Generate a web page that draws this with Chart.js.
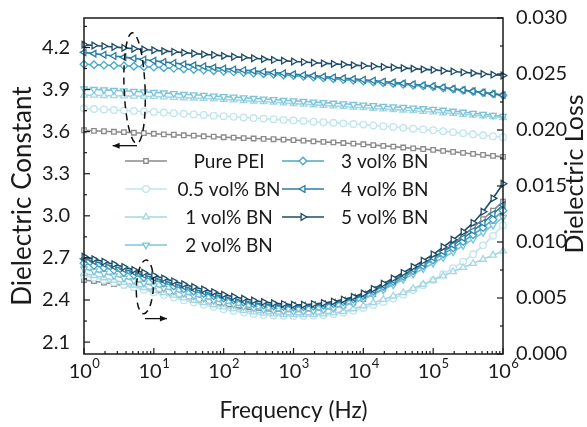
<!DOCTYPE html>
<html>
<head>
<meta charset="utf-8">
<script src="https://cdn.jsdelivr.net/npm/chart.js@4"></script>
<style>
  html, body { margin: 0; padding: 0; background: #fff; }
</style>
</head>
<body>
<canvas id="chart" width="587" height="427"></canvas>
<script>
// frequency sweep (Hz), 7 points per decade
const freq = [1, 1.389, 1.931, 2.683, 3.728, 5.179, 7.197,
  10, 13.89, 19.31, 26.83, 37.28, 51.79, 71.97,
  100, 138.9, 193.1, 268.3, 372.8, 517.9, 719.7,
  1000, 1389, 1931, 2683, 3728, 5179, 7197,
  10000, 13895, 19307, 26827, 37276, 51795, 71969,
  100000, 138950, 193070, 268270, 372760, 517950, 719690, 1000000];

const sampleNames = ['Pure PEI', '0.5 vol% BN', '1 vol% BN', '2 vol% BN', '3 vol% BN', '4 vol% BN', '5 vol% BN'];

// dielectric constant (left axis)
const epsPure = [3.610, 3.606, 3.603, 3.599, 3.596, 3.592, 3.589, 3.585, 3.581, 3.578, 3.574, 3.571, 3.567, 3.564,
  3.560, 3.557, 3.554, 3.551, 3.549, 3.546, 3.543, 3.540, 3.536, 3.531, 3.527, 3.523, 3.519, 3.514,
  3.510, 3.504, 3.499, 3.493, 3.487, 3.481, 3.476, 3.470, 3.463, 3.456, 3.449, 3.441, 3.434, 3.427, 3.420];
const eps05 = [3.765, 3.761, 3.758, 3.754, 3.751, 3.747, 3.744, 3.740, 3.736, 3.731, 3.727, 3.723, 3.719, 3.714,
  3.710, 3.706, 3.701, 3.697, 3.693, 3.689, 3.684, 3.680, 3.676, 3.671, 3.667, 3.663, 3.659, 3.654,
  3.650, 3.644, 3.639, 3.633, 3.627, 3.621, 3.616, 3.610, 3.603, 3.596, 3.589, 3.581, 3.574, 3.567, 3.560];
const eps1 = [3.860, 3.859, 3.857, 3.856, 3.854, 3.853, 3.851, 3.850, 3.847, 3.844, 3.841, 3.839, 3.836, 3.833,
  3.830, 3.826, 3.821, 3.817, 3.813, 3.809, 3.804, 3.800, 3.796, 3.791, 3.787, 3.783, 3.779, 3.774,
  3.770, 3.766, 3.761, 3.757, 3.753, 3.749, 3.744, 3.740, 3.734, 3.729, 3.723, 3.717, 3.711, 3.706, 3.700];
const eps2 = [3.905, 3.901, 3.898, 3.894, 3.891, 3.887, 3.884, 3.880, 3.876, 3.871, 3.867, 3.863, 3.859, 3.854,
  3.850, 3.846, 3.841, 3.837, 3.833, 3.829, 3.824, 3.820, 3.816, 3.811, 3.807, 3.803, 3.799, 3.794,
  3.790, 3.786, 3.781, 3.777, 3.773, 3.769, 3.764, 3.760, 3.753, 3.746, 3.739, 3.731, 3.724, 3.717, 3.710];
const eps3 = [4.080, 4.077, 4.074, 4.071, 4.069, 4.066, 4.063, 4.060, 4.056, 4.051, 4.047, 4.043, 4.039, 4.034,
  4.030, 4.026, 4.021, 4.017, 4.013, 4.009, 4.004, 4.000, 3.994, 3.989, 3.983, 3.977, 3.971, 3.966,
  3.960, 3.954, 3.949, 3.943, 3.937, 3.931, 3.926, 3.920, 3.911, 3.903, 3.894, 3.886, 3.877, 3.869, 3.860];
const eps4 = [4.165, 4.156, 4.148, 4.139, 4.131, 4.122, 4.114, 4.105, 4.097, 4.089, 4.081, 4.074, 4.066, 4.058,
  4.050, 4.044, 4.039, 4.033, 4.027, 4.021, 4.016, 4.010, 4.004, 3.999, 3.993, 3.987, 3.981, 3.976,
  3.970, 3.964, 3.957, 3.951, 3.944, 3.938, 3.931, 3.925, 3.916, 3.906, 3.897, 3.888, 3.879, 3.869, 3.860];
const eps5 = [4.220, 4.214, 4.209, 4.203, 4.197, 4.191, 4.186, 4.180, 4.174, 4.169, 4.163, 4.157, 4.151, 4.146,
  4.140, 4.134, 4.129, 4.123, 4.117, 4.111, 4.106, 4.100, 4.096, 4.091, 4.087, 4.083, 4.079, 4.074,
  4.070, 4.066, 4.061, 4.057, 4.053, 4.049, 4.044, 4.040, 4.034, 4.029, 4.023, 4.017, 4.011, 4.006, 4.000];

// dielectric loss (right axis), in units of 1e-3
const lossPure = [6.60, 6.50, 6.38, 6.25, 6.12, 5.95, 5.78, 5.60, 5.40, 5.19, 4.97, 4.76, 4.58, 4.43,
  4.30, 4.17, 4.05, 3.95, 3.88, 3.83, 3.80, 3.80, 3.83, 3.89, 3.98, 4.12, 4.33, 4.60,
  4.90, 5.35, 5.82, 6.30, 6.82, 7.36, 7.92, 8.50, 9.15, 9.82, 10.55, 11.30, 12.05, 12.80, 13.60];
const loss05 = [7.00, 6.80, 6.60, 6.39, 6.18, 5.95, 5.73, 5.50, 5.27, 5.04, 4.81, 4.59, 4.39, 4.19,
  4.00, 3.84, 3.70, 3.58, 3.49, 3.44, 3.41, 3.40, 3.40, 3.43, 3.48, 3.56, 3.69, 3.87,
  4.10, 4.37, 4.65, 4.95, 5.30, 5.71, 6.14, 6.60, 7.12, 7.67, 8.25, 8.90, 9.70, 10.55, 11.50];
const loss1 = [7.20, 7.00, 6.80, 6.59, 6.38, 6.15, 5.93, 5.70, 5.47, 5.24, 5.01, 4.79, 4.59, 4.39,
  4.20, 4.04, 3.89, 3.76, 3.64, 3.57, 3.52, 3.50, 3.50, 3.53, 3.58, 3.66, 3.80, 4.03,
  4.30, 4.58, 4.87, 5.17, 5.47, 5.84, 6.22, 6.60, 6.97, 7.34, 7.72, 8.08, 8.45, 8.82, 9.20];
const loss2 = [7.60, 7.40, 7.20, 6.99, 6.78, 6.55, 6.33, 6.10, 5.87, 5.64, 5.41, 5.19, 4.99, 4.79,
  4.60, 4.42, 4.25, 4.09, 3.97, 3.89, 3.83, 3.80, 3.81, 3.86, 3.95, 4.09, 4.29, 4.56,
  4.90, 5.30, 5.73, 6.18, 6.65, 7.13, 7.61, 8.10, 8.60, 9.12, 9.68, 10.25, 10.85, 11.50, 12.20];
const loss3 = [8.10, 7.90, 7.70, 7.49, 7.28, 7.05, 6.83, 6.60, 6.34, 6.08, 5.82, 5.60, 5.40, 5.20,
  5.00, 4.82, 4.65, 4.49, 4.37, 4.29, 4.23, 4.20, 4.21, 4.26, 4.35, 4.48, 4.66, 4.90,
  5.20, 5.60, 6.03, 6.48, 6.95, 7.43, 7.91, 8.40, 8.93, 9.47, 10.05, 10.65, 11.30, 12.00, 12.80];
const loss4 = [8.50, 8.27, 8.04, 7.81, 7.57, 7.31, 7.06, 6.80, 6.54, 6.29, 6.03, 5.79, 5.56, 5.33,
  5.10, 4.91, 4.74, 4.58, 4.47, 4.39, 4.33, 4.30, 4.31, 4.36, 4.45, 4.58, 4.76, 5.00,
  5.30, 5.70, 6.13, 6.58, 7.06, 7.57, 8.08, 8.60, 9.15, 9.72, 10.35, 11.00, 11.70, 12.50, 13.30];
const loss5 = [8.70, 8.47, 8.24, 8.01, 7.77, 7.51, 7.26, 7.00, 6.74, 6.49, 6.23, 5.99, 5.76, 5.53,
  5.30, 5.11, 4.94, 4.78, 4.65, 4.54, 4.46, 4.40, 4.40, 4.46, 4.55, 4.68, 4.86, 5.10,
  5.40, 5.82, 6.28, 6.75, 7.25, 7.78, 8.33, 8.90, 9.55, 10.20, 10.90, 11.70, 12.70, 13.90, 15.20];

const leftTicks = [2.1, 2.4, 2.7, 3.0, 3.3, 3.6, 3.9, 4.2];
const rightTicks = [0, 5, 10, 15, 20, 25, 30];

const epsSeries = [epsPure, eps05, eps1, eps2, eps3, eps4, eps5];
const lossSeries = [lossPure, loss05, loss1, loss2, loss3, loss4, loss5];
const colors = ['#8a8a8a', '#c0e5ee', '#a3d7e5', '#7cc4db', '#4aa7c9', '#2a7fa4', '#1c4d6a'];
const markers = [
  {style: 'rect', rot: 0, r: 3.2},
  {style: 'circle', rot: 0, r: 3.3},
  {style: 'triangle', rot: 0, r: 3.8},
  {style: 'triangle', rot: 180, r: 3.8},
  {style: 'rectRot', rot: 0, r: 3.8},
  {style: 'triangle', rot: 270, r: 3.8},
  {style: 'triangle', rot: 90, r: 3.8}
];

const FONT = 'Lato, "Open Sans", sans-serif';
Chart.defaults.font.family = FONT;
Chart.defaults.color = '#1a1a1a';

function makeSet(i, values, axis) {
  return {
    label: sampleNames[i],
    data: freq.map((f, k) => ({x: f, y: values[k]})),
    yAxisID: axis,
    borderColor: colors[i],
    backgroundColor: '#ffffff',
    borderWidth: 1.6,
    pointStyle: markers[i].style,
    pointRotation: markers[i].rot,
    pointRadius: markers[i].r,
    pointBorderWidth: 1.3,
    pointBackgroundColor: '#ffffff',
    pointBorderColor: colors[i],
    tension: 0,
    clip: false,
    order: 6 - i
  };
}

const datasets = [];
for (let i = 0; i < 7; i++) datasets.push(makeSet(i, epsSeries[i], 'y'));
for (let i = 0; i < 7; i++) datasets.push(makeSet(i, lossSeries[i], 'y1'));

function line(ctx, x0, y0, x1, y1) {
  ctx.beginPath();
  ctx.moveTo(x0, y0);
  ctx.lineTo(x1, y1);
  ctx.stroke();
}

function arrow(ctx, x0, x1, y) {
  line(ctx, x0, y, x1, y);
  const dir = x1 > x0 ? 1 : -1;
  ctx.beginPath();
  ctx.moveTo(x1, y);
  ctx.lineTo(x1 - dir * 7, y - 3);
  ctx.lineTo(x1 - dir * 7, y + 3);
  ctx.closePath();
  ctx.fill();
}

// box, inward ticks, x labels, titles, legend, annotations
const decorations = {
  id: 'decorations',
  afterDraw(chart) {
    const {ctx, chartArea: a, scales} = chart;
    const xs = scales.x, yl = scales.y, yr = scales.y1;
    ctx.save();
    ctx.strokeStyle = '#1a1a1a';
    ctx.fillStyle = '#1a1a1a';
    ctx.lineWidth = 1.5;
    ctx.strokeRect(a.left, a.top, a.right - a.left, a.bottom - a.top);

    ctx.lineWidth = 1.2;
    for (let d = 0; d < 6; d++) {
      for (let m = 1; m <= 9; m++) {
        const px = xs.getPixelForValue(m * Math.pow(10, d));
        line(ctx, px, a.bottom, px, a.bottom - (m === 1 ? 6 : 3));
      }
    }
    line(ctx, a.right, a.bottom, a.right, a.bottom - 6);
    leftTicks.forEach(v => {
      const py = yl.getPixelForValue(v);
      line(ctx, a.left, py, a.left + 6, py);
      const pm = yl.getPixelForValue(v + 0.15);
      if (pm > a.top) line(ctx, a.left, pm, a.left + 3, pm);
    });
    rightTicks.forEach(v => {
      const py = yr.getPixelForValue(v);
      line(ctx, a.right, py, a.right - 6, py);
      if (v < 30) {
        const pm = yr.getPixelForValue(v + 2.5);
        line(ctx, a.right, pm, a.right - 3, pm);
      }
    });

    // x tick labels 10^n
    ctx.textBaseline = 'alphabetic';
    ctx.textAlign = 'left';
    for (let d = 0; d <= 6; d++) {
      const px = xs.getPixelForValue(Math.pow(10, d));
      ctx.font = '20px ' + FONT;
      const w1 = ctx.measureText('10').width;
      ctx.font = '13px ' + FONT;
      const w2 = ctx.measureText(String(d)).width;
      const x0 = px - (w1 + w2) / 2;
      ctx.font = '20px ' + FONT;
      ctx.fillText('10', x0, 378);
      ctx.font = '13px ' + FONT;
      ctx.fillText(String(d), x0 + w1 + 0.5, 368);
    }

    // axis titles
    ctx.font = '22.5px ' + FONT;
    ctx.textAlign = 'center';
    ctx.fillText('Frequency (Hz)', (a.left + a.right) / 2, 418);
    ctx.textBaseline = 'middle';
    ctx.save();
    ctx.translate(23, 196);
    ctx.rotate(-Math.PI / 2);
    ctx.font = '26px ' + FONT;
    ctx.fillText('Dielectric Constant', 0, 0);
    ctx.restore();
    ctx.save();
    ctx.translate(575, 174);
    ctx.rotate(-Math.PI / 2);
    ctx.font = '25px ' + FONT;
    ctx.fillText('Dielectric Loss', 0, 0);
    ctx.restore();

    // legend
    const rows = [161, 189, 217, 245];
    ctx.font = '19px ' + FONT;
    for (let i = 0; i < 7; i++) {
      const col = i < 4 ? 0 : 1;
      const y = rows[col === 0 ? i : i - 4];
      const lx0 = col === 0 ? 125 : 282;
      const lx1 = lx0 + 42;
      ctx.strokeStyle = colors[i];
      ctx.lineWidth = 1.6;
      line(ctx, lx0, y, lx1, y);
      ctx.fillStyle = '#ffffff';
      ctx.lineWidth = 1.3;
      Chart.helpers.drawPoint(ctx, {
        pointStyle: markers[i].style, rotation: markers[i].rot,
        radius: markers[i].r, borderWidth: 1.3
      }, (lx0 + lx1) / 2, y);
      ctx.fillStyle = '#1a1a1a';
      if (col === 0) {
        ctx.textAlign = 'center';
        ctx.fillText(sampleNames[i], 229, y + 1);
      } else {
        ctx.textAlign = 'left';
        ctx.fillText(sampleNames[i], 341, y + 1);
      }
    }

    // dashed ellipses with axis arrows
    ctx.strokeStyle = '#111';
    ctx.fillStyle = '#111';
    ctx.lineWidth = 1.5;
    ctx.setLineDash([7, 5]);
    const ucx = xs.getPixelForValue(5.3), ucy = yl.getPixelForValue(3.91);
    const ury = ucy - yl.getPixelForValue(4.305);
    ctx.beginPath();
    ctx.ellipse(ucx, ucy, 10.5, ury, -0.04, 0, Math.PI * 2);
    ctx.stroke();
    const lcx = xs.getPixelForValue(7.45), lcy = yr.getPixelForValue(6.0);
    const lry = lcy - yr.getPixelForValue(8.4);
    ctx.beginPath();
    ctx.ellipse(lcx, lcy, 8.5, lry, 0.05, 0, Math.PI * 2);
    ctx.stroke();
    ctx.setLineDash([]);
    ctx.lineWidth = 1.3;
    arrow(ctx, xs.getPixelForValue(5.74), xs.getPixelForValue(2.57), yl.getPixelForValue(3.50));
    arrow(ctx, xs.getPixelForValue(7.48), xs.getPixelForValue(15.4), yr.getPixelForValue(3.16));
    ctx.restore();
  }
};

new Chart(document.getElementById('chart'), {
  type: 'line',
  data: {datasets: datasets},
  options: {
    responsive: false,
    animation: false,
    layout: {padding: {top: 17}},
    plugins: {legend: {display: false}, tooltip: {enabled: false}},
    scales: {
      x: {
        type: 'logarithmic',
        min: 1,
        max: 1e6,
        grid: {display: false},
        border: {display: false},
        ticks: {display: false},
        afterFit: s => { s.height = 73; }
      },
      y: {
        position: 'left',
        min: 2.015,
        max: 4.41,
        grid: {display: false},
        border: {display: false},
        afterBuildTicks: s => { s.ticks = leftTicks.map(v => ({value: v})); },
        ticks: {font: {size: 20}, padding: 6, color: '#1a1a1a', callback: v => v.toFixed(1)},
        afterFit: s => { s.width = 84; }
      },
      y1: {
        position: 'right',
        min: 0,
        max: 30,
        grid: {display: false},
        border: {display: false},
        afterBuildTicks: s => { s.ticks = rightTicks.map(v => ({value: v})); },
        ticks: {font: {size: 20}, padding: 5, color: '#1a1a1a', callback: v => (v / 1000).toFixed(3)},
        afterFit: s => { s.width = 84; }
      }
    }
  },
  plugins: [decorations]
});
</script>
</body>
</html>
